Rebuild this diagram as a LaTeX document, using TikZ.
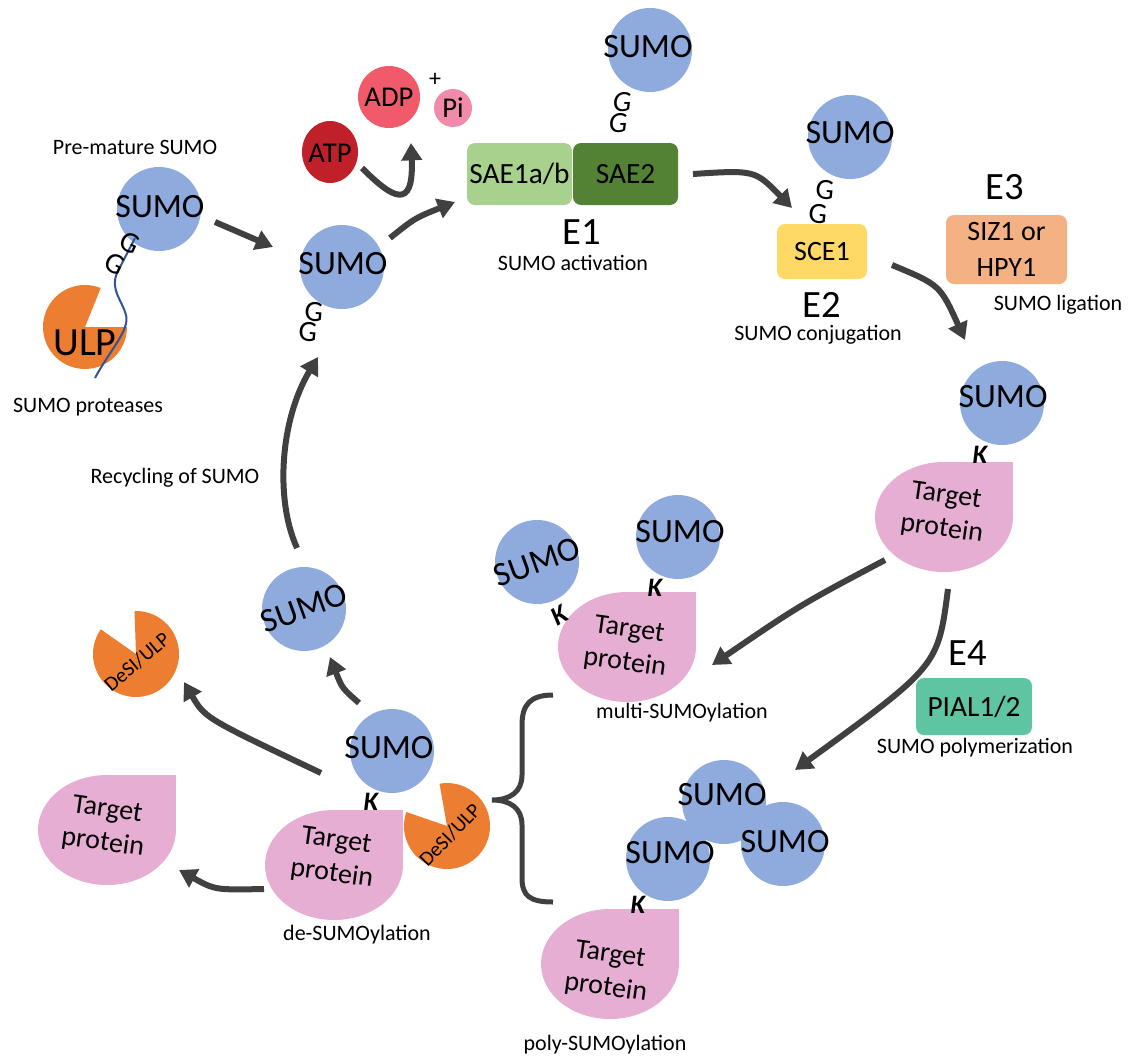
\documentclass[tikz,border=0pt]{standalone}
\usepackage{fontspec}
\setmainfont{Carlito}
\usetikzlibrary{arrows.meta}
\definecolor{sumoblue}{HTML}{8FAADC}
\definecolor{tgtpink}{HTML}{E6AED2}
\definecolor{ulporange}{HTML}{ED7D31}
\definecolor{arrgray}{HTML}{404040}
\definecolor{atpred}{HTML}{C0202A}
\definecolor{adpred}{HTML}{F05A6A}
\definecolor{pipink}{HTML}{F28BAA}
\definecolor{saeonegreen}{HTML}{A9D18E}
\definecolor{saetwogreen}{HTML}{548235}
\definecolor{sceyellow}{HTML}{FFD966}
\definecolor{sizorange}{HTML}{F4B183}
\definecolor{pialgreen}{HTML}{5EC4A1}
\definecolor{stringblue}{HTML}{2F5597}
\newcommand\tgtdrop[2]{%
  \fill[tgtpink] (#1,#2) ellipse[x radius=69, y radius=55];
  \fill[tgtpink] (#1,#2) rectangle ++(69,-55);}
\newcommand\sumodisk[2]{\fill[sumoblue] (#1,#2) circle[radius=42];}
\begin{document}
\begin{tikzpicture}[x=0.75pt, y=-0.75pt,
  arr/.style={draw=arrgray, line width=4.5pt, -{Triangle[length=13pt,width=15pt]}},
  sumotxt/.style={font=\fontsize{25.5}{30}\selectfont, inner sep=0pt},
  lbl/.style={font=\fontsize{16.5}{20}\selectfont, inner sep=0pt},
  elab/.style={font=\fontsize{29}{34}\selectfont, inner sep=0pt},
  boxnode/.style={rounded corners=6pt, inner sep=0pt, font=\fontsize{22}{27}\selectfont, align=center},
  tgttxt/.style={font=\fontsize{21}{25}\selectfont, align=center, rotate=-8, inner sep=0pt},
  gtxt/.style={font=\fontsize{22}{26}\selectfont, inner sep=0pt},
  gital/.style={font=\fontsize{22}{26}\selectfont\itshape, inner sep=0pt},
  ktxt/.style={font=\fontsize{20}{24}\selectfont\bfseries\itshape, inner sep=0pt},
  desitxt/.style={font=\fontsize{15.5}{19}\selectfont, inner sep=0pt},
  moltxt/.style={font=\fontsize{21.5}{26}\selectfont, inner sep=0pt}]
\useasboundingbox (0,0) rectangle (1135,1056);

% ---------- pre-mature SUMO ----------
\sumodisk{159}{209}
\fill[ulporange] (85,327) -- ++(68:31.5pt) arc[start angle=68, end angle=360, radius=31.5pt] -- cycle;
\draw[stringblue, line width=1.5pt] (135,238) -- (117,273) .. controls (110,290) and (122,300) .. (126,315) .. controls (130,330) and (110,350) .. (95,378);
\node[sumotxt] (preS) at (160,207) {SUMO};
\node[gtxt, rotate=-25] (preGa) at (130,243) {G};
\node[gtxt, rotate=-25] (preGb) at (115,264) {G};
\node[font=\fontsize{30}{36}\selectfont, inner sep=0pt] (ulp) at (85,343) {ULP};
\node[lbl] (prelab) at (135,147) {Pre-mature SUMO};
\node[lbl] (protlab) at (88,407) {SUMO proteases};

% ---------- mature SUMO ----------
\sumodisk{342}{267}
\node[sumotxt] (matS) at (343,264) {SUMO};
\node[gtxt, rotate=-5] (matGa) at (314,312) {G};
\node[gtxt, rotate=-5] (matGb) at (308,332) {G};
\node[lbl] (recyc) at (175,478) {Recycling of SUMO};

% ---------- ATP / ADP ----------
\fill[atpred] (330,152) ellipse[x radius=28, y radius=31];
\node[moltxt] (atp) at (330,153) {ATP};
\fill[adpred] (389,97) circle[radius=31];
\node[moltxt] (adp) at (389,97) {ADP};
\node[font=\fontsize{18}{22}\selectfont, inner sep=0pt] (plus) at (435,80) {+};
\fill[pipink] (453,108) circle[radius=19];
\node[moltxt] (pi) at (453,108) {Pi};

% ---------- E1 ----------
\node[boxnode, fill=saeonegreen, minimum width=78.75pt, minimum height=46.5pt] (saeone) at (519.5,174) {SAE1a/b};
\node[boxnode, fill=saetwogreen, minimum width=78.75pt, minimum height=46.5pt] (saetwo) at (625.5,174) {SAE2};
\sumodisk{650}{50}
\node[sumotxt] (eoneS) at (648,47) {SUMO};
\node[gital] (eoneGa) at (622,102) {G};
\node[gital] (eoneGb) at (618,123) {G};
\node[elab] (eone) at (582,232) {E1};
\node[lbl] (eonelab) at (573,263) {SUMO activation};

% ---------- E2 ----------
\sumodisk{850}{137}
\node[sumotxt] (etwoS) at (850,133) {SUMO};
\node[gtxt, rotate=-5] (etwoGa) at (825,190) {G};
\node[gtxt, rotate=-5] (etwoGb) at (818,214) {G};
\node[boxnode, fill=sceyellow, minimum width=67.5pt, minimum height=41.25pt, font=\fontsize{21}{26}\selectfont] (sce) at (822,251.5) {SCE1};
\node[elab] (etwo) at (822,305) {E2};
\node[lbl] (etwolab) at (818,335) {SUMO conjugation};

% ---------- E3 ----------
\node[elab] (ethree) at (1005,187) {E3};
\node[boxnode, fill=sizorange, minimum width=90.75pt, minimum height=51.75pt, font=\fontsize{21}{27.5}\selectfont] (siz) at (1006.5,249.5) {SIZ1 or\\HPY1};
\node[lbl] (ethreelab) at (1058,305) {SUMO ligation};

% ---------- right target ----------
\sumodisk{1002}{403}
\tgtdrop{944}{517}
\node[sumotxt] (rS) at (1003,397) {SUMO};
\node[ktxt] (rK) at (980,455) {K};
\node[tgttxt] (rT) at (944,513) {Target\\protein};

% ---------- E4 ----------
\node[elab] (efour) at (968,653) {E4};
\node[boxnode, fill=pialgreen, minimum width=87pt, minimum height=42.75pt] (pial) at (974,706.5) {PIAL1/2};
\node[lbl] (efourlab) at (975,748) {SUMO polymerization};

% ---------- multi ----------
\sumodisk{537}{562}
\sumodisk{678}{537}
\tgtdrop{627}{647}
\node[sumotxt, rotate=20] (mSa) at (537,562) {SUMO};
\node[sumotxt] (mSb) at (680,532) {SUMO};
\node[ktxt] (mKb) at (655,588) {K};
\node[ktxt, rotate=30] (mKa) at (559,615) {K};
\node[tgttxt] (mT) at (627,647) {Target\\protein};
\node[lbl] (mlab) at (682,713) {multi-SUMOylation};

% ---------- poly ----------
\sumodisk{724}{802}
\sumodisk{783}{844}
\sumodisk{668}{859}
\tgtdrop{610}{964}
\node[sumotxt] (pSa) at (722,795) {SUMO};
\node[sumotxt] (pSb) at (785,842) {SUMO};
\node[sumotxt] (pSc) at (670,853) {SUMO};
\node[ktxt] (pK) at (638,905) {K};
\node[tgttxt] (pT) at (608,972) {Target\\protein};
\node[lbl] (plab) at (605,1045) {poly-SUMOylation};

% ---------- de-SUMOylation ----------
\sumodisk{392}{751}
\tgtdrop{334}{865}
\node[sumotxt] (dS) at (389,748) {SUMO};
\node[ktxt] (dK) at (371,802) {K};
\node[tgttxt] (dT) at (334,858) {Target\\protein};
\fill[ulporange] (447,826) -- ++(161:32.25pt) arc[start angle=161, end angle=460, radius=32.25pt] -- cycle;
\node[desitxt, rotate=46] (dDesi) at (450,835) {DeSI/ULP};
\node[lbl] (dlab) at (357,935) {de-SUMOylation};

\sumodisk{304}{609}
\node[sumotxt, rotate=20] (fS) at (304,608) {SUMO};
\fill[ulporange] (136,654) -- ++(145:32.25pt) arc[start angle=145, end angle=452, radius=32.25pt] -- cycle;
\node[desitxt, rotate=40] (fDesi) at (137,662) {DeSI/ULP};
\tgtdrop{107}{830}
\node[tgttxt] (lT) at (105,827) {Target\\protein};

% ---------- bracket ----------
\draw[arrgray, line width=3.75pt] (553,695) .. controls (530,695) and (522,705) .. (522,725) -- (522,775) .. controls (522,792) and (510,800) .. (492,800) .. controls (510,800) and (522,808) .. (522,825) -- (522,878) .. controls (522,896) and (530,902) .. (553,902);

% ---------- connector ends ----------
\coordinate (aas) at (215,222); \coordinate (aae) at (273,247);
\coordinate (abs) at (390,238); \coordinate (abe) at (455,202);
\coordinate (acs) at (362,168); \coordinate (ace) at (411,143);
\coordinate (ads) at (693,174); \coordinate (ade) at (792,208);
\coordinate (aes) at (892,265); \coordinate (aee) at (965,340);
\coordinate (afs) at (885,560); \coordinate (afe) at (712,665);
\coordinate (ags) at (948,589); \coordinate (age) at (795,770);
\coordinate (ahs) at (297,548); \coordinate (ahe) at (318,357);
\coordinate (ais) at (359,703); \coordinate (aie) at (330,657);
\coordinate (ajs) at (321,773); \coordinate (aje) at (184,682);
\coordinate (aks) at (264,889); \coordinate (ake) at (179,870);

\draw[arr] (aas) -- (aae);
\draw[arr] (abs) .. controls (415,218) .. (abe);
\draw[arr] (acs) .. controls (392,198) and (414,212) .. (ace);
\draw[arr] (ads) .. controls (755,170) .. (ade);
\draw[arr] (aes) .. controls (940,285) .. (aee);
\draw[arr] (afs) .. controls (800,605) .. (afe);
\draw[arr] (ags) .. controls (938,666) .. (age);
\draw[arr] (ahs) .. controls (275,500) and (280,420) .. (ahe);
\draw[arr] (ais) .. controls (342,688) .. (aie);
\draw[arr] (ajs) .. controls (205,718) .. (aje);
\draw[arr] (aks) .. controls (215,890) .. (ake);
\end{tikzpicture}
\end{document}
